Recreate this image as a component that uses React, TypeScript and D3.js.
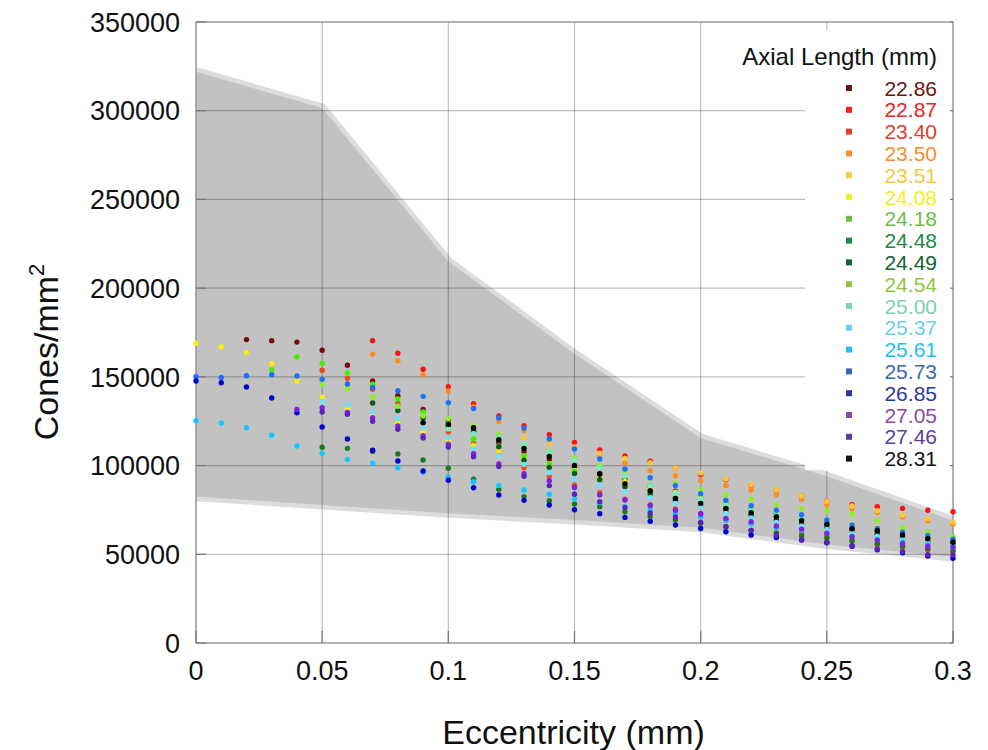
import React from 'react';
import * as d3 from 'd3';

// ---------- DATA ----------
const eccentricity = [0, 0.01, 0.02, 0.03, 0.04, 0.05, 0.06, 0.07, 0.08, 0.09, 0.1, 0.11, 0.12, 0.13, 0.14, 0.15, 0.16, 0.17, 0.18, 0.19, 0.2, 0.21, 0.22, 0.23, 0.24, 0.25, 0.26, 0.27, 0.28, 0.29, 0.3];

const axialLengths = ['22.86', '22.87', '23.40', '23.50', '23.51', '24.08', '24.18', '24.48', '24.49', '24.54', '25.00', '25.37', '25.61', '25.73', '26.85', '27.05', '27.46', '28.31'];

const _ = null;
const s2286 = [_, _, 171000, 170400, 169600, 165000, 156500, 147700, 139400, 131700, 125000, 119000, 113000, 108000, 103500, 99000, 95500, 92000, 88500, 85500, 82000, 79000, 76000, 73000, 70000, 67000, 64500, 62000, 59500, 57000, 54500];
const s2287 = [_, _, _, _, _, _, _, 170400, 163300, 154300, 144500, 134900, 127900, 122500, 117400, 113100, 108800, 105400, 102500, 98600, 95000, 92000, 89000, 86000, 83000, 80000, 78000, 76800, 75900, 74800, 74000];
const s2340 = [_, _, _, _, _, 153700, 149200, 143000, 135000, 127000, 119000, 112500, 108000, 98800, 94000, 88900, 84700, 81000, 78000, 75500, 73000, 70000, 67500, 65000, 62500, 60500, 58000, 55200, 54000, 52500, 51500];
const s2350 = [_, _, _, _, _, _, _, 162700, 159100, 151200, 142000, 133000, 124900, 119700, 113500, 110500, 106000, 101300, 97100, 94300, 91500, 88700, 86200, 83500, 81000, 78000, 75500, 73500, 71000, 69000, 67000];
const s2351 = [_, _, _, _, _, _, _, _, _, _, _, _, _, 115700, 112500, 110000, 107000, 104000, 101600, 98600, 95800, 92400, 89400, 86200, 83000, 79900, 77200, 74600, 72100, 70100, 68200];
const s2408 = [169000, 167000, 163600, 157400, 147700, 138600, 132100, 128000, 124400, 118700, 113800, 111400, 108200, 104500, 101000, 97500, 94000, 91000, 88000, 85000, 82000, 79500, 77000, 74500, 72000, 69500, 67000, 65000, 63000, 60500, 58500];
const s2418 = [_, _, _, 153900, 161200, 157600, 152200, 145800, 137500, 130200, 124000, 115100, 111000, 105600, 101000, 97000, 91900, 88500, 85000, 82000, 79500, 77000, 74500, 72000, 69500, 67500, 65500, 63500, 61500, 59500, 57500];
const s2448 = [_, _, _, _, _, 110300, 109700, 108000, 106500, 103100, 98500, 92300, 86600, 82500, 80200, 78300, 76800, 74000, 71500, 69500, 67500, 65500, 63500, 62000, 60500, 59000, 57500, 56000, 54500, 53000, 52000];
const s2449 = [_, _, _, _, _, _, _, 135300, 131000, 127000, 122000, 119900, 110600, 103000, 99000, 95500, 92000, 88000, 84000, 80500, 77500, 74500, 72000, 69500, 67000, 65000, 63000, 61000, 59000, 57000, 55500];
const s2454 = [_, _, _, _, _, 145800, 143300, 138800, 133400, 128000, 126600, 122300, 117600, 112000, 108000, 104500, 100000, 97000, 93000, 90000, 86400, 83600, 81000, 77900, 75700, 74600, 72700, 68900, 65000, 62400, 59900];
const s2500 = [_, _, _, _, _, _, _, _, _, _, 120600, 118000, 116000, 112200, 107500, 103000, 98800, 94000, 88700, 84400, 81200, 78000, 75500, 73000, 70500, 68000, 66000, 64000, 62000, 60000, 58000];
const s2537 = [_, _, _, _, _, 136000, 134100, 130200, 126400, 121300, 115700, 109500, 105400, 100700, 96000, 92400, 89000, 85300, 81900, 78700, 76800, 73000, 70500, 68000, 66000, 64000, 62000, 60000, 58500, 57000, 55000];
const s2561 = [125300, 124000, 121300, 117100, 111000, 106900, 103500, 101300, 98800, 96200, 93600, 90900, 88700, 86200, 83800, 81200, 79000, 77000, 75000, 73000, 71000, 69000, 67000, 65000, 63500, 62000, 60000, 58500, 57000, 55500, 54000];
const s2573 = [150100, 149700, 150600, 151200, 150500, 148600, 146000, 144100, 142200, 139000, 135400, 132100, 126800, 121200, 115000, 109300, 103700, 98100, 93200, 88700, 84100, 80400, 77400, 74800, 72300, 69300, 66500, 64500, 62500, 60500, 58500];
const s2685 = [147700, 146700, 144300, 138100, 129800, 121700, 115000, 108600, 102600, 96900, 91700, 87500, 83400, 80400, 77800, 75100, 72900, 70800, 68600, 66500, 64600, 62700, 60900, 59500, 58000, 56500, 54500, 52500, 50900, 49000, 47700];
const s2705 = [_, _, _, _, 131700, 132600, 130000, 127000, 122300, 116800, 112000, 106700, 100900, 95400, 91500, 87700, 83400, 80600, 77400, 74800, 72700, 70100, 68400, 65900, 64200, 61800, 59900, 58000, 56000, 54500, 53900];
const s2746 = [_, _, _, _, _, 130200, 128900, 125000, 120500, 115500, 110500, 105000, 99500, 94000, 88700, 83800, 79600, 76300, 73300, 71000, 68000, 65600, 63500, 60900, 58200, 56800, 54800, 52900, 51500, 49800, 49600];
const s2831 = [_, _, _, _, _, _, _, _, _, 124200, 123300, 121300, 114600, 109700, 105200, 100100, 95100, 89800, 85800, 81500, 78700, 75900, 73400, 71200, 68900, 66900, 64400, 63300, 60900, 58800, 56800];

const seriesValues = [s2286, s2287, s2340, s2350, s2351, s2408, s2418, s2448, s2449, s2454, s2500, s2537, s2561, s2573, s2685, s2705, s2746, s2831];

const dotColors = ['#7a0a0a', '#ff1010', '#e84a18', '#ff8c1a', '#ffc832', '#f8f000', '#40f000', '#1a7a1a', '#0c5a1c', '#8cf020', '#70f0c0', '#70e0ff', '#10c8ff', '#1a70ff', '#0000d0', '#8020e0', '#6020c0', '#000000'];
const legendColors = ['#6e1212', '#f02020', '#e0402a', '#f7902a', '#f8c840', '#f0f020', '#6cbf44', '#1a8a44', '#13632e', '#8ec63f', '#7fd0b0', '#6ccff0', '#20c0f0', '#3868b8', '#2a3a98', '#8a48a8', '#5a40a0', '#111111'];

const bandEcc = [0, 0.05, 0.1, 0.15, 0.2, 0.25, 0.3];
const bandUpper = [322000, 301500, 215000, 163000, 115500, 94000, 69000];
const bandLower = [82500, 77800, 73100, 69300, 65000, 55500, 48500];

const xTicks = [0, 0.05, 0.1, 0.15, 0.2, 0.25, 0.3];
const xTickLabels = ['0', '0.05', '0.1', '0.15', '0.2', '0.25', '0.3'];
const yTicks = [0, 50000, 100000, 150000, 200000, 250000, 300000, 350000];

// ---------- LAYOUT ----------
const W = 988, H = 750;
const L = 196, R = 953, T = 22, B = 643;

export default function App() {
  const x = d3.scaleLinear().domain([0, 0.3]).range([L, R]);
  const y = d3.scaleLinear().domain([0, 350000]).range([B, T]);

  const bandData = bandEcc.map((e, i) => ({ e, u: bandUpper[i], l: bandLower[i] }));
  const area = d3.area<any>().x(d => x(d.e)).y0(d => y(d.l)).y1(d => y(d.u));
  const upperLine = d3.line<any>().x(d => x(d.e)).y(d => y(d.u));
  const lowerLine = d3.line<any>().x(d => x(d.e)).y(d => y(d.l));

  const font = 'Liberation Sans, Arial, Helvetica, sans-serif';

  const legendTop = 88;
  const legendStep = 21.8;

  return (
    <svg width={W} height={H} style={{ position: 'absolute', left: 0, top: 0, background: '#fff' }} fontFamily={font}>
      <rect x={0} y={0} width={W} height={H} fill="#fff" />
      <defs>
        <clipPath id="plotclip">
          <rect x={L} y={T} width={R - L} height={B - T} />
        </clipPath>
      </defs>
      {/* band */}
      <g clipPath="url(#plotclip)">
        <path d={upperLine(bandData) || ''} fill="none" stroke="#dcdcdc" strokeWidth={9} />
        <path d={lowerLine(bandData) || ''} fill="none" stroke="#dcdcdc" strokeWidth={9} />
        <path d={area(bandData) || ''} fill="#c2c2c2" />
      </g>
      {/* grid */}
      {xTicks.map((t, i) => (
        <line key={'gx' + i} x1={x(t)} x2={x(t)} y1={T} y2={B} stroke="rgba(0,0,0,0.25)" strokeWidth={1.2} />
      ))}
      {yTicks.map((t, i) => (
        <line key={'gy' + i} x1={L} x2={R} y1={y(t)} y2={y(t)} stroke="rgba(0,0,0,0.25)" strokeWidth={1.2} />
      ))}
      {/* legend box */}
      <rect x={805} y={30} width={R - 805 - 1} height={440} fill="#fff" />
      {/* frame */}
      <rect x={L} y={T} width={R - L} height={B - T} fill="none" stroke="#9a9a9a" strokeWidth={1.3} />
      {yTicks.map((t, i) => (
        <g key={'ty' + i}>
          <line x1={L} x2={L + 10} y1={y(t)} y2={y(t)} stroke="#777" strokeWidth={1.2} />
          <line x1={R - 3} x2={R} y1={y(t)} y2={y(t)} stroke="#777" strokeWidth={1.2} />
        </g>
      ))}
      {xTicks.map((t, i) => (
        <line key={'tx' + i} x1={x(t)} x2={x(t)} y1={B} y2={B - 12} stroke="#777" strokeWidth={1.2} />
      ))}
      {/* dots */}
      <g>
        {seriesValues.map((vals, si) =>
          vals.map((v, i) =>
            v == null ? null : (
              <circle key={si + '-' + i} cx={x(eccentricity[i])} cy={y(v)} r={2.7} fill={dotColors[si]} />
            )
          )
        )}
      </g>
      {/* tick labels */}
      {yTicks.map((t, i) => (
        <text key={'ly' + i} x={180} y={y(t)} dy="0.36em" textAnchor="end" fontSize={27} fill="#111">
          {String(t)}
        </text>
      ))}
      {xTicks.map((t, i) => (
        <text key={'lx' + i} x={x(t)} y={680} textAnchor="middle" fontSize={27} fill="#111">
          {xTickLabels[i]}
        </text>
      ))}
      {/* axis titles */}
      <text x={(L + R) / 2 - 1} y={744} textAnchor="middle" fontSize={34} fill="#111">Eccentricity (mm)</text>
      <text transform={`translate(58, ${352}) rotate(-90)`} textAnchor="middle" fontSize={34} fill="#111">
        Cones/mm<tspan fontSize={22} dy={-14}>2</tspan>
      </text>
      {/* legend */}
      <text x={937} y={65} textAnchor="end" fontSize={24} fill="#111">Axial Length (mm)</text>
      {axialLengths.map((a, i) => (
        <g key={'lg' + i}>
          <rect x={846} y={legendTop + i * legendStep - 3} width={6} height={6} fill={legendColors[i]} />
          <text x={937} y={legendTop + i * legendStep} dy="0.36em" textAnchor="end" fontSize={21} fill={legendColors[i]}>{a}</text>
        </g>
      ))}
    </svg>
  );
}
